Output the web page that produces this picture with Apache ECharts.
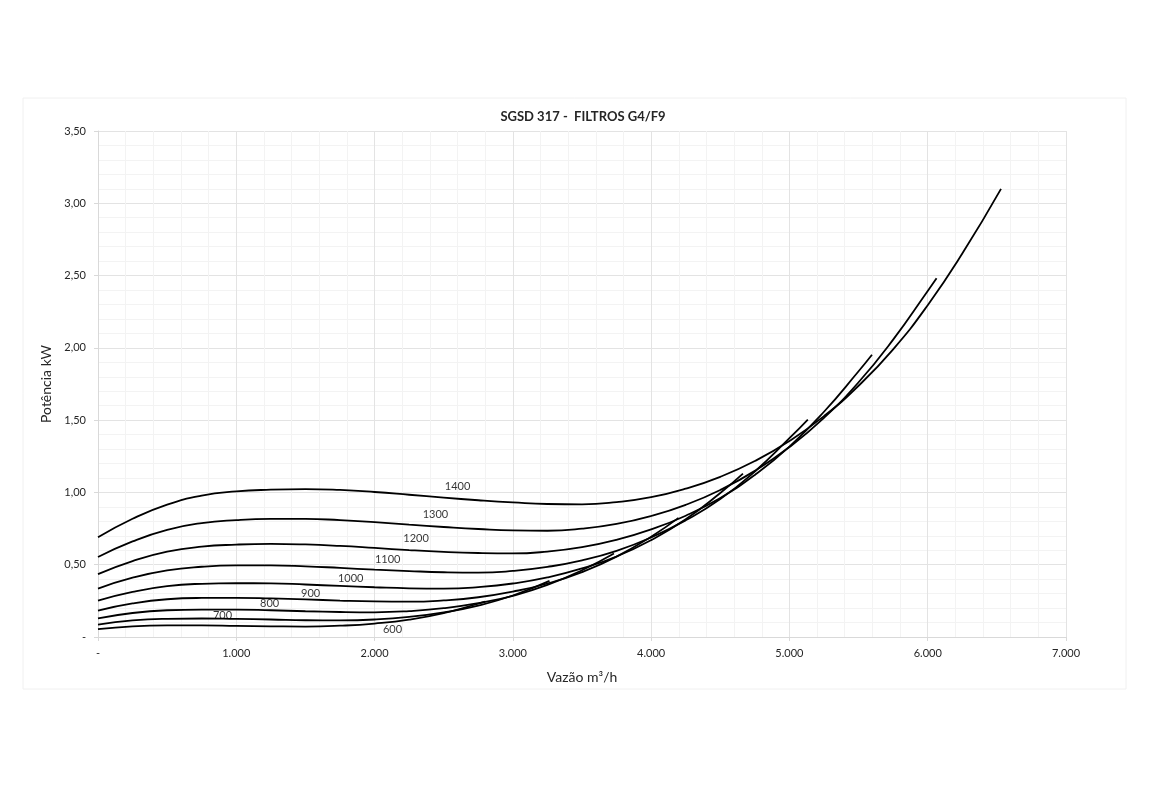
<!DOCTYPE html>
<html>
<head>
<meta charset="utf-8">
<title>SGSD 317 - FILTROS G4/F9</title>
<script src="https://cdn.jsdelivr.net/npm/echarts@6/dist/echarts.min.js"></script>
<style>
    html, body {
        margin: 0;
        padding: 0;
        background: #fff;
    }
    #chart {
        width: 1150px;
        height: 789px;
    }
</style>
</head>
<body>
<div id="chart"></div>
<script>
// rotation curves, flow in m3/h and power in kW
const rpm = ["1400", "1300", "1200", "1100", "1000", "900", "800", "700", "600"];

const q1400 = [0, 250, 500, 750, 1000, 1250, 1500, 1750, 2000, 2250, 2500, 2750, 3000, 3250, 3500, 3750, 4000, 4250, 4500, 4750, 5000, 5250, 5500, 5750, 6000, 6250, 6530];
const p1400 = [0.690, 0.818, 0.916, 0.978, 1.007, 1.019, 1.023, 1.017, 1.003, 0.984, 0.964, 0.946, 0.931, 0.920, 0.918, 0.933, 0.967, 1.026, 1.108, 1.217, 1.356, 1.528, 1.738, 1.990, 2.295, 2.652, 3.100];

const q1300 = [0, 250, 500, 750, 1000, 1250, 1500, 1750, 2000, 2250, 2500, 2750, 3000, 3250, 3500, 3750, 4000, 4250, 4500, 4750, 5000, 5250, 5500, 5750, 6000, 6064];
const p1300 = [0.553, 0.661, 0.741, 0.788, 0.809, 0.817, 0.817, 0.808, 0.794, 0.777, 0.761, 0.747, 0.737, 0.735, 0.749, 0.782, 0.837, 0.914, 1.017, 1.149, 1.314, 1.516, 1.762, 2.057, 2.394, 2.482];

const q1200 = [0, 250, 500, 750, 1000, 1250, 1500, 1750, 2000, 2250, 2500, 2750, 3000, 3250, 3500, 3750, 4000, 4250, 4500, 4750, 5000, 5250, 5500, 5597];
const p1200 = [0.435, 0.525, 0.590, 0.625, 0.639, 0.644, 0.640, 0.630, 0.616, 0.601, 0.589, 0.581, 0.578, 0.591, 0.621, 0.672, 0.744, 0.839, 0.962, 1.121, 1.317, 1.558, 1.838, 1.952];

const q1100 = [0, 250, 500, 750, 1000, 1250, 1500, 1750, 2000, 2250, 2500, 2750, 3000, 3250, 3500, 3750, 4000, 4250, 4500, 4750, 5000, 5133];
const p1100 = [0.335, 0.410, 0.461, 0.486, 0.495, 0.495, 0.489, 0.478, 0.466, 0.456, 0.448, 0.445, 0.457, 0.485, 0.530, 0.596, 0.688, 0.807, 0.954, 1.145, 1.375, 1.504];

const q1000 = [0, 250, 500, 750, 1000, 1250, 1500, 1750, 2000, 2250, 2500, 2750, 3000, 3250, 3500, 3750, 4000, 4250, 4500, 4664];
const p1000 = [0.252, 0.312, 0.352, 0.368, 0.372, 0.371, 0.363, 0.353, 0.344, 0.337, 0.335, 0.345, 0.370, 0.412, 0.474, 0.557, 0.670, 0.814, 0.996, 1.130];

const q900 = [0, 250, 500, 750, 1000, 1250, 1500, 1750, 2000, 2250, 2500, 2750, 3000, 3250, 3500, 3750, 4000, 4198];
const p900 = [0.183, 0.232, 0.261, 0.270, 0.271, 0.267, 0.260, 0.252, 0.246, 0.244, 0.253, 0.275, 0.314, 0.370, 0.449, 0.556, 0.694, 0.824];

const q800 = [0, 250, 500, 750, 1000, 1250, 1500, 1750, 2000, 2250, 2500, 2750, 3000, 3250, 3500, 3731];
const p800 = [0.129, 0.166, 0.185, 0.190, 0.190, 0.185, 0.178, 0.173, 0.171, 0.179, 0.199, 0.234, 0.285, 0.360, 0.462, 0.578];

const q700 = [0, 250, 500, 750, 1000, 1250, 1500, 1750, 2000, 2250, 2500, 2750, 3000, 3265];
const p700 = [0.086, 0.115, 0.126, 0.128, 0.125, 0.121, 0.116, 0.115, 0.121, 0.139, 0.170, 0.217, 0.287, 0.388];

const q600 = [0, 250, 500, 750, 1000, 1250, 1500, 1750, 2000, 2250, 2500, 2750, 2799];
const p600 = [0.054, 0.074, 0.080, 0.080, 0.077, 0.074, 0.072, 0.078, 0.093, 0.120, 0.165, 0.230, 0.244];

// where the rpm labels sit
const labelQ = [2600, 2440, 2300, 2095, 1827, 1538, 1241, 900, 2130];
const labelP = [1.043, 0.849, 0.682, 0.537, 0.405, 0.301, 0.232, 0.149, 0.052];

const flows = [q1400, q1300, q1200, q1100, q1000, q900, q800, q700, q600];
const powers = [p1400, p1300, p1200, p1100, p1000, p900, p800, p700, p600];

const FONT = "Lato, 'Open Sans', sans-serif";

function fmtY(v) {
    if (v === 0) return "-";
    return v.toFixed(2).replace(".", ",");
}

function fmtX(v) {
    if (v === 0) return "-";
    return (v / 1000).toFixed(3);
}

const chart = echarts.init(document.getElementById("chart"), null, { renderer: "canvas" });

const series = rpm.map((name, i) => ({
    name: name,
    type: "line",
    data: flows[i].map((q, k) => [q, powers[i][k]]),
    showSymbol: false,
    smooth: 0.5,
    lineStyle: {
        color: "#000",
        width: 1.8,
    },
    z: 3,
}));

// rpm text labels, drawn as invisible points
series.push({
    name: "labels",
    type: "scatter",
    symbolSize: 0,
    data: labelQ.map((q, i) => ({ value: [q, labelP[i]], name: rpm[i] })),
    label: {
        show: true,
        position: "inside",
        formatter: (p) => p.name,
        color: "#000",
        fontSize: 11,
        fontFamily: FONT,
    },
    z: 4,
});

chart.setOption({
    animation: false,
    backgroundColor: "#fff",
    textStyle: { fontFamily: FONT },
    title: {
        text: "SGSD 317 -  FILTROS G4/F9",
        left: 578,
        textAlign: "center",
        top: 105,
        textStyle: {
            fontSize: 13,
            fontWeight: "bold",
            color: "#262626",
            fontFamily: FONT,
        },
    },
    graphic: [
        {
            type: "rect",
            shape: { x: 23, y: 98, width: 1103, height: 591 },
            style: { fill: "none", stroke: "#f0f0f0", lineWidth: 1 },
            silent: true,
        },
    ],
    grid: {
        left: 98,
        right: 84,
        top: 131,
        bottom: 152,
    },
    xAxis: {
        type: "value",
        min: 0,
        max: 7000,
        interval: 1000,
        name: "Vazão m³/h",
        nameLocation: "middle",
        nameGap: 33,
        nameTextStyle: { fontSize: 14, color: "#262626", fontFamily: FONT },
        axisLine: { show: true, lineStyle: { color: "#d9d9d9" } },
        axisTick: { show: true, length: 4, lineStyle: { color: "#d9d9d9" } },
        axisLabel: {
            formatter: fmtX,
            fontSize: 11,
            color: "#262626",
            margin: 11,
            fontFamily: FONT,
        },
        splitLine: { show: true, lineStyle: { color: "#e3e3e3" } },
        minorTick: { show: false, splitNumber: 5 },
        minorSplitLine: { show: true, lineStyle: { color: "#f3f3f3" } },
    },
    yAxis: {
        type: "value",
        min: 0,
        max: 3.5,
        interval: 0.5,
        name: "Potência kW",
        nameLocation: "middle",
        nameGap: 44,
        nameRotate: 90,
        nameTextStyle: { fontSize: 14, color: "#262626", fontFamily: FONT },
        axisLine: { show: true, lineStyle: { color: "#d9d9d9" } },
        axisTick: { show: true, length: 4, lineStyle: { color: "#d9d9d9" } },
        axisLabel: {
            formatter: fmtY,
            fontSize: 11,
            color: "#262626",
            margin: 12,
            fontFamily: FONT,
        },
        splitLine: { show: true, lineStyle: { color: "#e3e3e3" } },
        minorTick: { show: false, splitNumber: 5 },
        minorSplitLine: { show: true, lineStyle: { color: "#f3f3f3" } },
    },
    series: series,
});
</script>
</body>
</html>
